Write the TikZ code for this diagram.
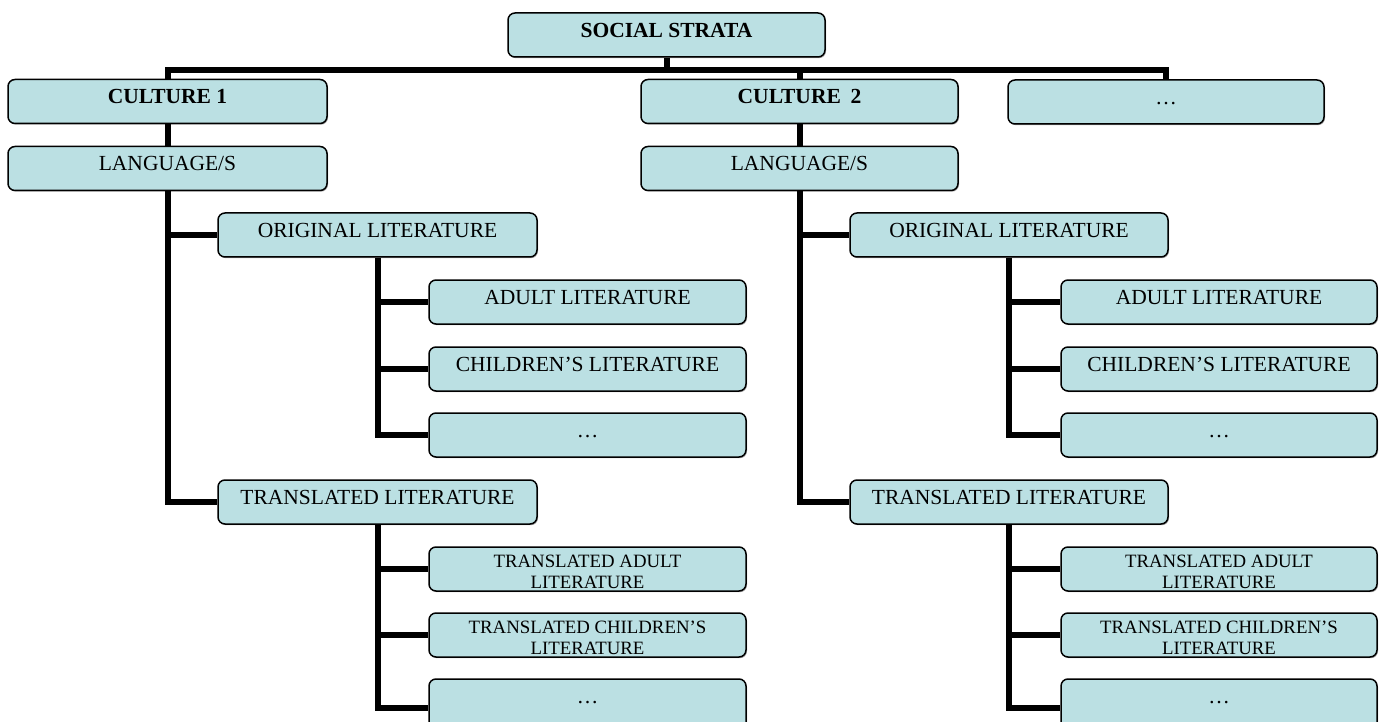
\documentclass[tikz,border=0pt]{standalone}
\usepackage{fontspec}
\setmainfont{Liberation Serif}
\usetikzlibrary{shadows,backgrounds}
\definecolor{boxfill}{RGB}{187,224,227}

\begin{document}
\begin{tikzpicture}[x=1pt,y=-1pt,
  box/.style={draw=black, line width=1.5pt, rounded corners=7pt, fill=boxfill,
    minimum height=44pt, minimum width=317pt, inner sep=0pt,
    font=\fontsize{21.5}{24}\selectfont, text height=14.2pt, text depth=9.6pt,
    drop shadow={shadow xshift=1pt, shadow yshift=-1.2pt, fill=black, opacity=0.35}},
  headbox/.style={box, font=\fontsize{21.5}{24}\selectfont\bfseries},
  twoline/.style={box, align=center, font=\fontsize{18.8}{21}\selectfont,
    text height=38pt, text depth=0pt},
  tallbox/.style={box, minimum height=58pt, text depth=23.6pt},
  conn/.style={line width=6pt, line join=miter}]

\useasboundingbox (0,0) rectangle (1387,722);

% top level
\node[headbox] (ss) at (666.5,35) {SOCIAL STRATA};
\node[headbox, minimum width=319pt] (c1) at (167.5,101.5) {CULTURE 1};
\node[headbox] (c2) at (799.5,101.5) {CULTURE\hspace{0.45em}2};
\node[box, minimum width=316pt] (c3) at (1166,102) {…};
\coordinate (bus) at (0,70);

% left branch
\node[box, minimum width=319pt] (lang1) at (167.5,168.5) {LANGUAGE/S};
\node[box, minimum width=319pt] (ol1) at (377.5,235) {ORIGINAL LITERATURE};
\node[box] (al1) at (587.5,302) {ADULT LITERATURE};
\node[box] (cl1) at (587.5,369) {CHILDREN’S LITERATURE};
\node[box] (e1) at (587.5,435) {…};
\node[box, minimum width=319pt] (tl1) at (377.5,502) {TRANSLATED LITERATURE};
\node[twoline] (tal1) at (587.5,569) {TRANSLATED ADULT\\LITERATURE};
\node[twoline] (tcl1) at (587.5,635) {TRANSLATED CHILDREN’S\\LITERATURE};
\node[tallbox] (te1) at (587.5,708) {…};

% right branch
\node[box] (lang2) at (799.5,168.5) {LANGUAGE/S};
\node[box, minimum width=318pt] (ol2) at (1009,235) {ORIGINAL LITERATURE};
\node[box, minimum width=316pt] (al2) at (1219,302) {ADULT LITERATURE};
\node[box, minimum width=316pt] (cl2) at (1219,369) {CHILDREN’S LITERATURE};
\node[box, minimum width=316pt] (e2) at (1219,435) {…};
\node[box, minimum width=318pt] (tl2) at (1009,502) {TRANSLATED LITERATURE};
\node[twoline, minimum width=316pt] (tal2) at (1219,569) {TRANSLATED ADULT\\LITERATURE};
\node[twoline, minimum width=316pt] (tcl2) at (1219,635) {TRANSLATED CHILDREN’S\\LITERATURE};
\node[tallbox, minimum width=316pt] (te2) at (1219,708) {…};

\begin{scope}[on background layer]
  % bus under the root
  \draw[conn] (c1.north) -- (c1.north |- bus) -- (c3.north |- bus) -- (c3.north);
  \draw[conn] (ss.south) -- (ss.south |- bus);
  \draw[conn] (c2.north) -- (c2.north |- bus);
  % left tree
  \draw[conn] (c1.south) -- (lang1.north);
  \draw[conn] (lang1.south) |- (tl1.west);
  \draw[conn] (lang1.south |- ol1.west) -- (ol1.west);
  \draw[conn] (ol1.south) |- (e1.west);
  \draw[conn] (ol1.south |- al1.west) -- (al1.west);
  \draw[conn] (ol1.south |- cl1.west) -- (cl1.west);
  \draw[conn] (tl1.south) |- (te1.west);
  \draw[conn] (tl1.south |- tal1.west) -- (tal1.west);
  \draw[conn] (tl1.south |- tcl1.west) -- (tcl1.west);
  % right tree
  \draw[conn] (c2.south) -- (lang2.north);
  \draw[conn] (lang2.south) |- (tl2.west);
  \draw[conn] (lang2.south |- ol2.west) -- (ol2.west);
  \draw[conn] (ol2.south) |- (e2.west);
  \draw[conn] (ol2.south |- al2.west) -- (al2.west);
  \draw[conn] (ol2.south |- cl2.west) -- (cl2.west);
  \draw[conn] (tl2.south) |- (te2.west);
  \draw[conn] (tl2.south |- tal2.west) -- (tal2.west);
  \draw[conn] (tl2.south |- tcl2.west) -- (tcl2.west);
\end{scope}
\end{tikzpicture}
\end{document}
